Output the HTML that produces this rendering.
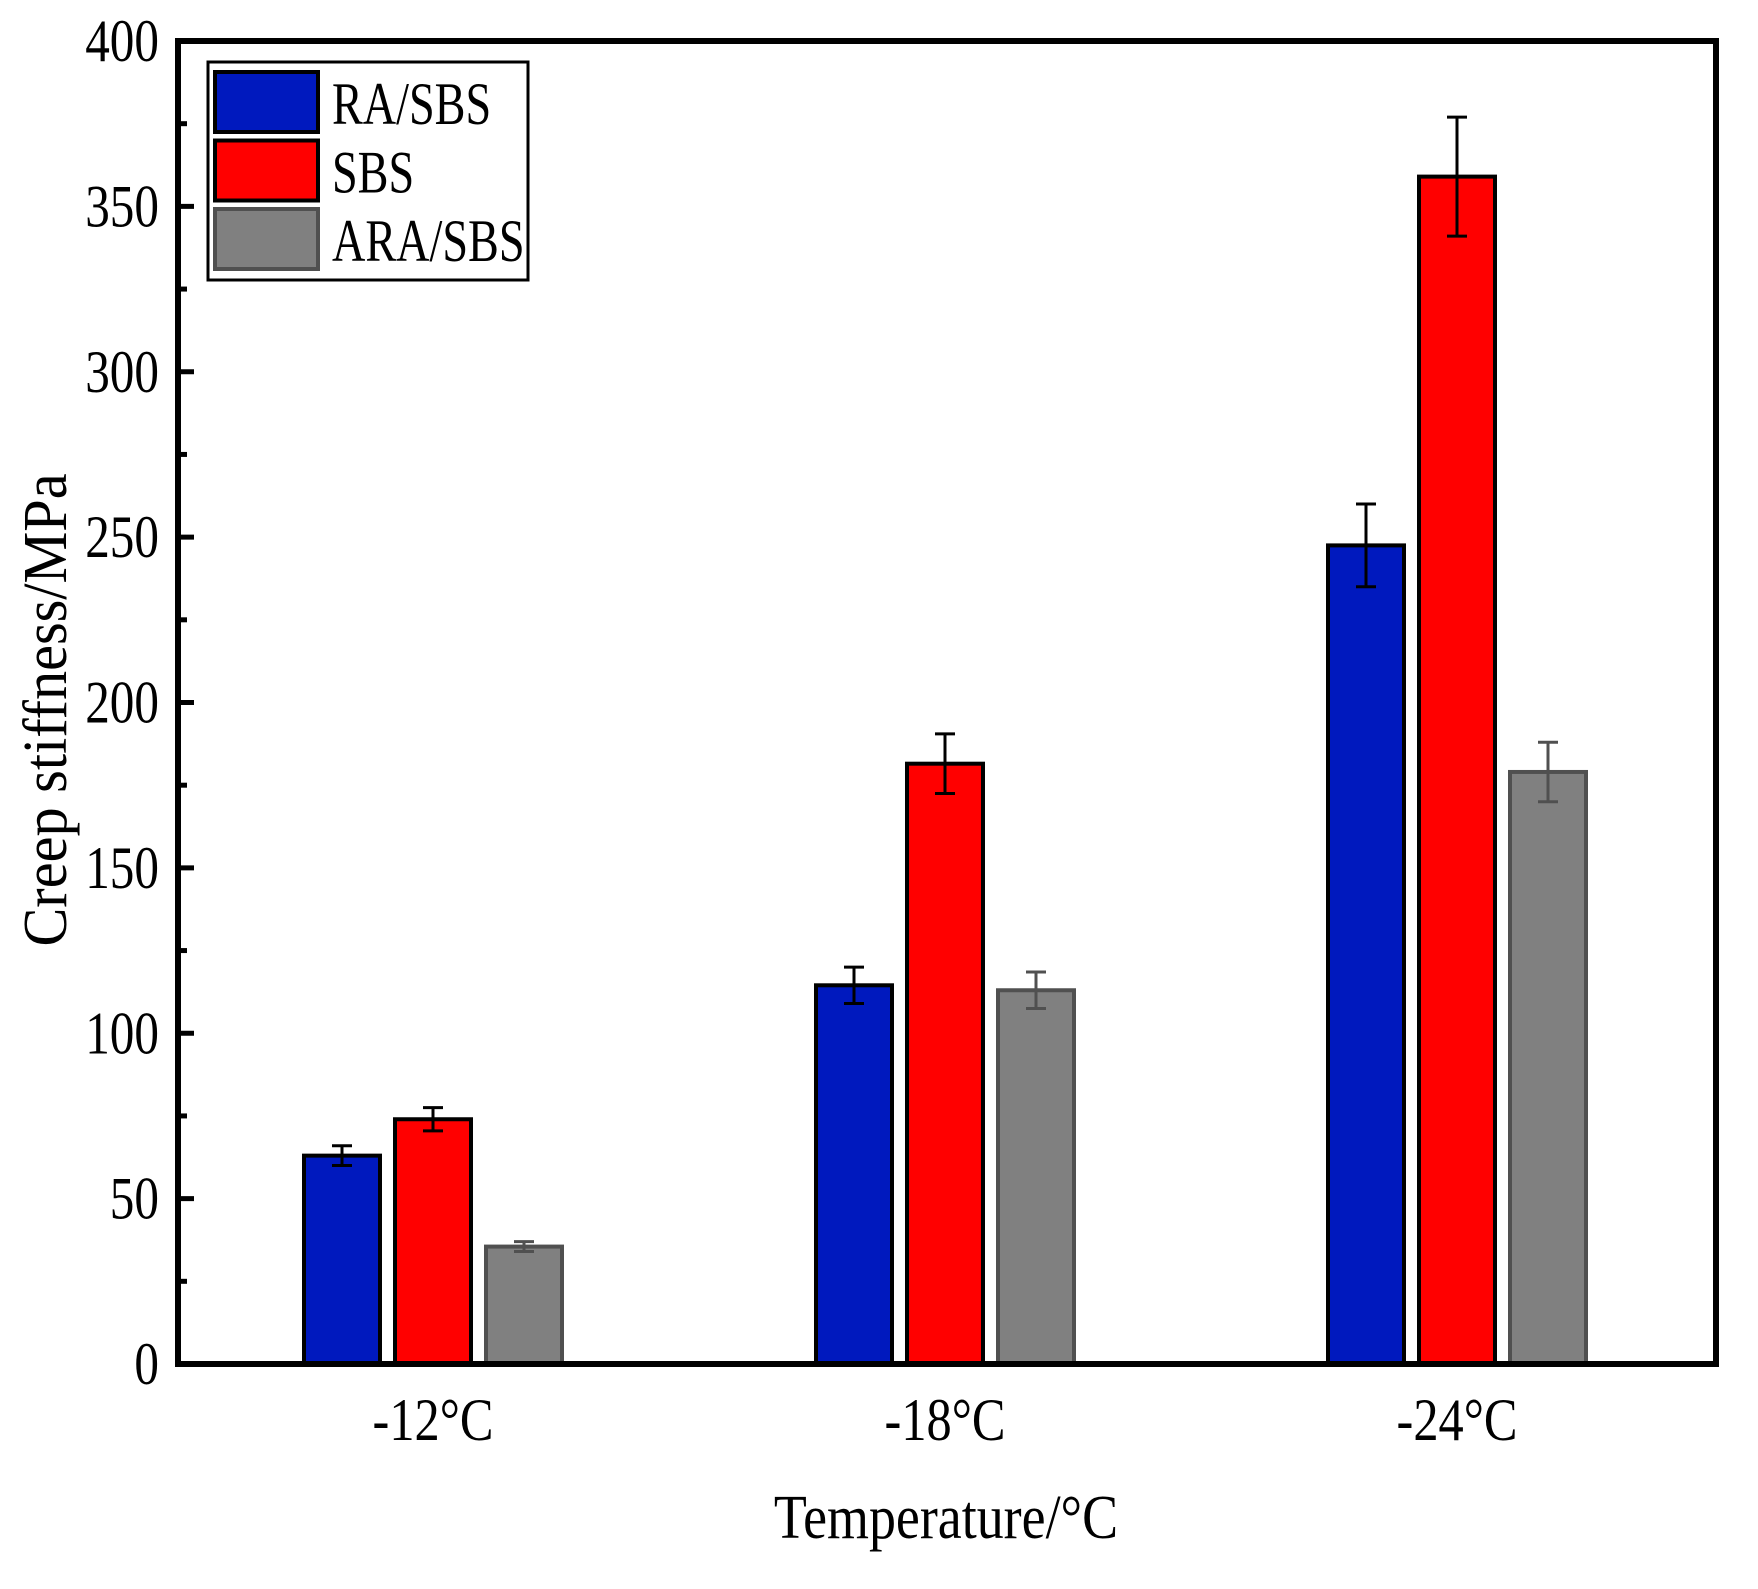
<!DOCTYPE html>
<html><head><meta charset="utf-8"><style>
html,body{margin:0;padding:0;background:#fff;}
svg{display:block;font-family:"Liberation Serif",serif;}
</style></head><body>
<svg id="chart" width="1758" height="1589" viewBox="0 0 1758 1589"></svg>
<script>
const categories = ["-12\u00B0C", "-18\u00B0C", "-24\u00B0C"];
const seriesNames = ["RA/SBS", "SBS", "ARA/SBS"];
const raSbsValues = [63, 114.5, 247.5];
const sbsValues = [74, 181.5, 359];
const araSbsValues = [35.5, 113, 179];
const raSbsErrors = [3, 5.5, 12.5];
const sbsErrors = [3.5, 9, 18];
const araSbsErrors = [1.5, 5.5, 9];
const yTicks = [0, 50, 100, 150, 200, 250, 300, 350, 400];

const values = [raSbsValues, sbsValues, araSbsValues];
const errors = [raSbsErrors, sbsErrors, araSbsErrors];

const NS = "http://www.w3.org/2000/svg";
const svg = document.getElementById("chart");
const L = 178, R = 1716, T = 41, B = 1364;
const yMax = 400;
const y = v => B - v / yMax * (B - T);
const groupCenters = [433, 945, 1457];
const x = i => groupCenters[i];
const fills = ["#0019BE", "#FF0000", "#808080"];
const strokes = ["#000", "#000", "#505050"];
const barW = 76, step = 91;

function el(tag, attrs, parent) {
  const e = document.createElementNS(NS, tag);
  for (const k in attrs) e.setAttribute(k, attrs[k]);
  (parent || svg).appendChild(e);
  return e;
}
function txt(str, tx, ty, size, sx, anchor, parent, rot) {
  const t = el("text", {x: 0, y: 0, "text-anchor": anchor, "font-size": size,
    transform: "translate(" + tx + "," + ty + ")" + (rot ? " rotate(" + rot + ")" : "") + " scale(" + sx + ",1)"}, parent);
  t.textContent = str;
  return t;
}

// bars
values.forEach((ser, s) => {
  ser.forEach((v, i) => {
    const cx = x(i) + (s - 1) * step;
    const r = el("rect", {x: cx - barW / 2, y: y(v), width: barW, height: B - y(v), fill: fills[s], stroke: strokes[s], "stroke-width": 4});
    
    
    const e = errors[s][i];
    const g = el("g", {stroke: strokes[s], "stroke-width": 3});
    
    
    el("line", {x1: cx, x2: cx, y1: y(v + e), y2: y(v - e)}, g);
    el("line", {x1: cx - 10, x2: cx + 10, y1: y(v + e), y2: y(v + e)}, g);
    el("line", {x1: cx - 10, x2: cx + 10, y1: y(v - e), y2: y(v - e)}, g);
  });
});

// frame
const fr = el("rect", {x: L, y: T, width: R - L, height: B - T, fill: "none", stroke: "#000", "stroke-width": 6});



// y ticks
for (let v = 0; v <= yMax; v += 25) {
  const major = v % 50 === 0;
  el("line", {x1: L, x2: L + (major ? 16 : 9), y1: y(v), y2: y(v), stroke: "#000", "stroke-width": 5});
}
yTicks.forEach(v => {
  const t = txt(String(v), 159, y(v) + 20, 60, 0.82, "end");
  
  
});
categories.forEach((c, i) => {
  const t = txt(c, x(i), 1440, 60, 0.84, "middle");
  
  
});

// axis titles
const xt = txt("Temperature/\u00B0C", 946, 1538, 62, 0.87, "middle");


const yt = txt("Creep stiffness/MPa", 66, 710, 62, 0.94, "middle", null, -90);



// legend
const lg = el("g", {});


el("rect", {x: 208, y: 62, width: 320, height: 218, fill: "#fff", stroke: "#000", "stroke-width": 3}, lg);
seriesNames.forEach((n, s) => {
  const yy = 72 + s * 68.5;
  const sw = el("rect", {x: 215, y: yy, width: 103, height: 60, fill: fills[s], stroke: strokes[s], "stroke-width": 4}, lg);
  
  
  const t = txt(n, 332, yy + 52, 60, 0.77, "start", lg);
  
  
});
</script>
</body></html>
